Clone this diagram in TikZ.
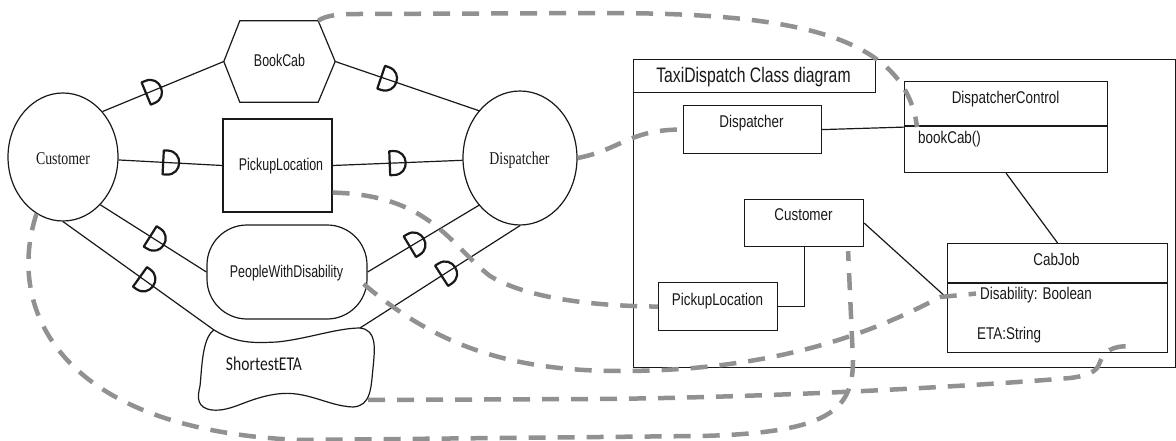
\documentclass[tikz,border=0pt]{standalone}
\usepackage{fontspec}
\usetikzlibrary{shapes.geometric,calc,decorations.markings}
\newfontfamily\sfL[FakeStretch=0.73]{Liberation Sans}
\newfontfamily\sfR[FakeStretch=0.79]{Liberation Sans}
\newfontfamily\sfT[FakeStretch=0.75]{Liberation Sans}
\newfontfamily\serA[FakeStretch=0.77]{Liberation Serif}
\newfontfamily\calA[FakeStretch=0.8]{Carlito}
\newcommand\fntL{\sfL\fontsize{17}{20}\selectfont}
\newcommand\fntR{\sfR\fontsize{17}{20}\selectfont}
\newcommand\fntT{\sfT\fontsize{21}{24}\selectfont}
\newcommand\fntS{\serA\fontsize{18}{21}\selectfont}
\newcommand\fntC{\calA\fontsize{19.5}{22}\selectfont}
\definecolor{dashgray}{RGB}{145,145,145}
\definecolor{ink}{RGB}{25,25,25}
\tikzset{
  ln/.style={draw=ink, line width=1.2pt},
  trace/.style={draw=dashgray, line width=4.5pt, dash pattern=on 17pt off 12pt},
  lbl/.style={inner sep=0pt, anchor=base, text=ink},
  lblw/.style={inner sep=0pt, anchor=base west, text=ink},
  dmark/.style={postaction={decorate, decoration={markings,
      mark=at position #1 with {\draw[line width=2.2pt, draw=ink, line join=round]
        (0,-12) -- (0,12) -- (4,12) .. controls (20,12) and (20,-12) .. (4,-12) -- cycle;}}}},
  cbox/.style={ln, anchor=north west, inner sep=0pt},
}
\begin{document}
\begin{tikzpicture}[x=1pt,y=-1pt]
\useasboundingbox (0,0) rectangle (1176,441);
\fill[white] (0,0) rectangle (1176,441);

% ---------- left: use case style ----------
\node[ellipse, ln, minimum width=110, minimum height=128, inner sep=0pt] (cust) at (63,157) {};
\node[lbl, font=\fntS] (custT) at (63,165) {Customer};

\node[minimum width=111, minimum height=81, inner sep=0pt] (bc) at (279.5,61.5) {};
\draw[ln] (bc.west) -- ($(bc.north west)+(16,0)$) coordinate (bcTL)
  -- ($(bc.north east)+(-17,0)$) coordinate (bcTR) -- (bc.east)
  -- ($(bc.south east)+(-17,0)$) -- ($(bc.south west)+(16,0)$) -- cycle;
\node[lbl, font=\fntL] (bcT) at (279.5,67) {BookCab};

\node[ln, minimum width=109, minimum height=93, inner sep=0pt] (pl) at (277.5,165.5) {};
\node[lbl, font=\fntL] (plT) at (281,171) {PickupLocation};

\node[ln, rounded corners=40pt, minimum width=160, minimum height=94, inner sep=0pt] (pwd) at (287,272) {};
\node[lbl, font=\fntL] (pwdT) at (286.5,277) {PeopleWithDisability};

\node[minimum width=162, minimum height=80, inner sep=0pt] (eta) at (287,368) {};
\begin{scope}[shift={(eta.center)}]
\draw[ln] (-73,-38) coordinate (etaTL)
  .. controls (-50,-24) and (-32,-25) .. (-10,-26)
  .. controls (20,-29) and (50,-40) .. (73,-40) coordinate (etaTR)
  .. controls (90,-38) and (88,-20) .. (86,0)
  .. controls (84,20) and (84,38) .. (66,39)
  .. controls (40,38) and (20,22) .. (-10,26)
  .. controls (-40,30) and (-55,44) .. (-75,42)
  .. controls (-90,40) and (-90,30) .. (-87,18)
  .. controls (-85,0) and (-85,-30) .. (-73,-38) -- cycle;
\coordinate (etaOut) at (81,32);
\end{scope}
\node[lbl, font=\fntC] (etaT) at (264,370) {ShortestETA};

\node[ellipse, ln, minimum width=114, minimum height=134, inner sep=0pt] (disp) at (520,158) {};
\node[lbl, font=\fntS] (dispT) at (519.5,165) {Dispatcher};

\draw[ln, dmark=0.36] (cust.49) -- (bc.west);
\draw[ln, dmark=0.43] (cust) -- (pl.west);
\draw[ln, dmark=0.47] (cust.-52) -- (pwd.west);
\draw[ln, dmark=0.51] (cust.south) -- (etaTL);
\draw[ln, dmark=0.32] (bc.east) -- (disp.131);
\draw[ln, dmark=0.44] (pl.east) -- (disp);
\draw[ln, dmark=0.38] (pwd.east) -- (disp.229);
\draw[ln, dmark=0.51] (etaTR) -- (disp.south);

% ---------- right: class diagram ----------
\node[cbox, minimum width=542, minimum height=308] (frame) at (633,59) {};
\node[cbox, minimum width=242, minimum height=33] (title) at (633,59) {};
\node[lbl, font=\fntT] (titleT) at (753.5,83) {TaxiDispatch Class diagram};

\node[cbox, minimum width=138, minimum height=48] (cdisp) at (683,105) {};
\node[lbl, font=\fntR] (cdispT) at (751.5,128) {Dispatcher};

\node[cbox, minimum width=203, minimum height=91] (dc) at (904,81) {};
\draw[ln] ($(dc.north west)+(0,45)$) -- ($(dc.north east)+(0,45)$);
\node[lbl, font=\fntR] (dcT) at (1005.5,104) {DispatcherControl};
\node[lblw, font=\fntR] (dcM) at (918,144) {bookCab()};

\node[cbox, minimum width=119, minimum height=47] (ccust) at (744,199) {};
\node[lbl, font=\fntR] (ccustT) at (803.5,220) {Customer};

\node[cbox, minimum width=119, minimum height=48] (cpl) at (658,282) {};
\node[lbl, font=\fntR] (cplT) at (717.5,305) {PickupLocation};

\node[cbox, minimum width=220, minimum height=109] (cab) at (947,243) {};
\draw[ln] ($(cab.north west)+(0,40)$) -- ($(cab.north east)+(0,40)$);
\node[lbl, font=\fntR] (cabT) at (1056.5,265) {CabJob};
\node[lblw, font=\fntR] (attr1) at (980,299) {Disability: Boolean};
\node[lblw, font=\fntR] (attr2) at (977,339) {ETA:String};

\draw[ln] (cdisp.east) -- (dc.west);
\draw[ln] (dc.south) -- (cab.north);
\draw[ln] (ccust.east) -- (cab.west);
\draw[ln] (ccust.south) |- (cpl.east);

% ---------- trace links ----------
\coordinate (dcIn) at ($(dc.west)+(13,0)$);
\coordinate (plOut) at ($(pl.south east)+(0,-20)$);
\coordinate (pwdOut) at ($(pwd.east)+(-4,12)$);
\coordinate (attrIn) at ($(attr1.west)+(-4,-1)$);
\coordinate (cabIn) at ($(cab.south east)+(-40,-7)$);
\coordinate (ccIn) at ($(ccust.south)+(44,4)$);

\draw[trace] (bcTR) .. controls (326,15) and (340,14) .. (360,14) -- (600,13)
  .. controls (780,13) and (905,30) .. (dcIn);
\draw[trace] (disp.east) .. controls (620,150) and (630,129) .. (cdisp.west);
\draw[trace] (plOut) .. controls (430,195) and (450,245) .. (490,276)
  .. controls (530,300) and (600,306) .. (cpl.west);
\draw[trace] (pwdOut) .. controls (430,340) and (500,371) .. (620,371)
  .. controls (760,371) and (860,340) .. (940,297) -- (attrIn);
\draw[trace] (etaOut) -- (600,399) .. controls (800,397) and (1000,384) .. (1070,378)
  .. controls (1095,375) and (1098,368) .. (1100,362)
  .. controls (1104,350) and (1115,346) .. (cabIn);
\draw[trace] (cust.245) .. controls (5,310) and (60,430) .. (300,440) -- (700,436)
  .. controls (830,433) and (853,410) .. (853,360) -- (ccIn);
\end{tikzpicture}
\end{document}
